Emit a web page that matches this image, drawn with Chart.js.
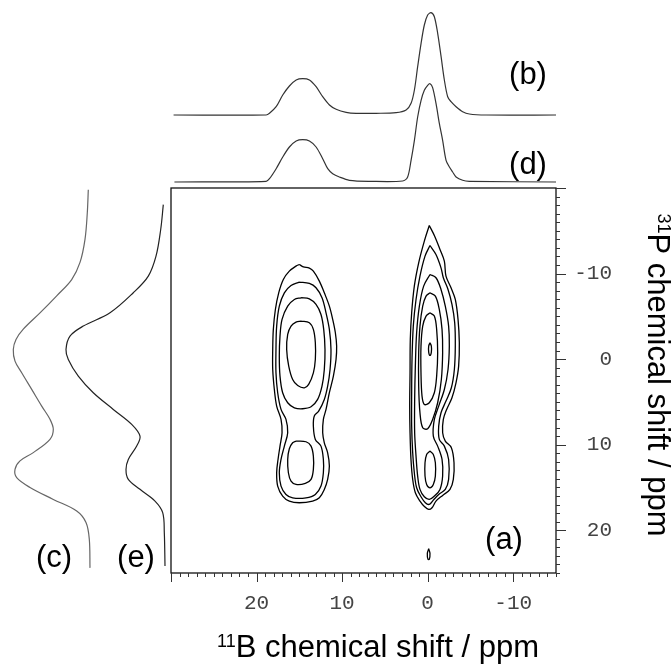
<!DOCTYPE html>
<html lang="en">
<head>
<meta charset="UTF-8">
<title>11B-31P correlation</title>
<style>
    body { margin: 0; padding: 0; background: #fff; }
    #wrap { position: relative; width: 671px; height: 669px; overflow: hidden; }
    canvas { position: absolute; }
    #mainChart { left: 0; top: 0; }
    #topChart { left: 171px; top: 0; }
    #leftChart { left: 0; top: 188px; }
</style>
</head>
<body>
<div id="wrap">
    <canvas id="mainChart" width="671" height="669"></canvas>
    <canvas id="topChart" width="385" height="188"></canvas>
    <canvas id="leftChart" width="171" height="385"></canvas>
</div>
<script src="https://cdn.jsdelivr.net/npm/chart.js"></script>
<script>
// axis ranges and tick labels (ppm)
const xRange = [-15, 30];
const yRange = [-20, 25];
const xTickLabels = [20, 10, 0, -10];
const yTickLabels = [-10, 0, 10, 20];

// 11B projections (top): ppm and intensity
const specB_ppm = [29.7, 18.88, 18.49, 17.71, 16.94, 16.16, 15.37, 14.6, 13.82, 13.04, 12.27, 11.48, 10.7, 9.53, 8.36, 6.03, 3.69, 2.52, 1.94, 1.55, 1.17, 0.77, 0.39, 0.0, -0.4, -0.78, -1.17, -1.57, -1.95, -2.34, -2.73, -3.32, -4.09, -4.87, -6.82, -15];
const specB_int = [0, 0, 1.7, 8.3, 20, 29, 35, 36.3, 35, 28.3, 18.3, 10, 5.7, 2.7, 1.7, 1.7, 2.3, 5, 11.7, 25, 48.3, 71.7, 90, 100, 102.3, 98.3, 81.7, 58.3, 35, 18.3, 13.3, 8.3, 3.3, 1, 0, 0];
const specD_ppm = [29.6, 18.88, 18.49, 17.71, 16.94, 16.16, 15.37, 14.6, 13.82, 13.04, 12.27, 11.68, 11.1, 10.32, 9.15, 6.81, 2.92, 2.34, 1.94, 1.55, 1.17, 0.77, 0.39, 0.0, -0.28, -0.58, -0.98, -1.37, -1.75, -2.15, -2.54, -2.92, -3.32, -4.09, -4.87, -15];
const specD_int = [0, 0.7, 3.3, 13.3, 25, 35, 41, 42.3, 41, 35, 23.3, 13.3, 8.3, 5, 1.7, 0.7, 1, 5, 21.7, 41.7, 65, 81.7, 91.7, 96.7, 98.3, 94.3, 78.3, 58.3, 41.7, 21.7, 15, 10, 5, 1.7, 0.7, 0];

// 31P projections (left): ppm and intensity
const specC_ppm = [-19.8, -17.1, -14.0, -11.3, -9.3, -7.4, -5.4, -3.5, -2.3, -1.13, 0.23, 1.6, 3.54, 5.49, 7.04, 8.21, 9.38, 10.93, 11.9, 12.9, 13.86, 15.0, 16.4, 17.76, 19.1, 21.06, 24.4];
const specC_int = [1.7, 2.7, 5, 10, 18.3, 33.3, 50, 66.7, 74, 76.7, 75, 68.3, 58.3, 48.3, 40, 36.7, 40, 56.7, 70, 75, 73.3, 60, 36.7, 13.3, 4, 0.7, 0];
const specE_ppm = [-18.05, -15.15, -12.03, -9.7, -7.76, -5.42, -3.86, -2.69, -1.13, 0.04, 1.99, 3.93, 5.88, 7.63, 9.0, 10.16, 11.72, 12.89, 14.05, 15.22, 16.59, 17.94, 20.28, 24.18];
const specE_int = [1.7, 4.3, 9, 16.7, 31.7, 55, 81.7, 95, 99, 96.7, 86.7, 71.7, 51.7, 33.3, 25, 28.3, 36.7, 39, 36.7, 25, 10, 2.3, 0.7, 0];

// contour levels, [11B ppm, 31P ppm]
const broadOuter = [[15.0,-11.06],[14.53,-10.79],[13.83,-10.63],[13.36,-10.28],[12.66,-9.12],[12.08,-7.75],[11.49,-6.19],[11.1,-4.64],[10.79,-3.08],[10.64,-1.52],[10.71,0.04],[11.02,1.99],[11.49,3.93],[11.88,5.88],[12.19,7.05],[12.27,8.61],[12.08,9.78],[11.69,10.95],[11.49,12.5],[11.69,14.06],[12.08,15.23],[12.66,16.21],[13.44,16.6],[15.0,16.79],[16.17,16.6],[16.95,16.01],[17.53,14.84],[17.65,13.28],[17.49,11.73],[17.26,10.17],[17.02,8.61],[17.14,7.05],[17.65,5.49],[17.92,3.55],[18.11,1.21],[18.11,-1.13],[18.04,-3.47],[17.8,-5.8],[17.41,-7.75],[16.87,-9.31],[16.17,-10.28],[15.39,-10.87]];
const broadSecond = [[15.0,-9.0],[13.83,-8.84],[13.05,-8.34],[12.35,-7.17],[11.88,-5.41],[11.49,-3.47],[11.3,-1.13],[11.41,1.21],[11.69,3.16],[12.08,4.71],[12.74,6.08],[13.25,6.66],[13.36,7.83],[13.13,9.39],[12.47,10.17],[12.19,11.73],[12.19,13.28],[12.47,14.84],[13.13,15.82],[14.22,16.21],[15.78,16.21],[16.56,15.82],[17.14,14.84],[17.34,13.28],[17.14,11.73],[16.75,10.17],[16.36,8.61],[16.56,7.05],[17.14,5.88],[17.53,3.93],[17.73,1.6],[17.73,-1.13],[17.65,-3.86],[17.34,-6.19],[16.75,-7.75],[15.97,-8.61]];
const broadThird = [[14.8,-7.17],[13.83,-7.05],[13.05,-6.39],[12.47,-5.22],[12.15,-3.47],[12.0,-1.13],[12.08,1.21],[12.35,3.16],[12.86,4.71],[13.63,5.57],[14.61,5.8],[15.58,5.69],[16.36,5.1],[16.95,3.93],[17.26,1.99],[17.34,-0.35],[17.26,-2.69],[17.02,-4.64],[16.36,-6.19],[15.58,-6.97]];
const broadInner = [[14.8,-4.44],[13.83,-4.25],[13.36,-3.47],[13.13,-1.91],[13.13,0.04],[13.36,1.6],[13.91,2.96],[14.41,3.35],[15.19,3.08],[15.78,2.38],[16.24,0.82],[16.48,-1.13],[16.36,-2.88],[15.97,-3.86],[15.39,-4.32]];
const broadLower = [[15.39,9.58],[14.22,9.66],[13.63,10.17],[13.36,11.34],[13.36,12.89],[13.63,14.06],[14.3,14.53],[15.39,14.65],[15.97,14.26],[16.28,13.28],[16.36,11.73],[16.17,10.48],[15.78,9.78]];

const sharpOuter = [[-0.19,-15.62],[-0.82,-14.37],[-1.44,-12.82],[-1.95,-11.45],[-2.14,-9.7],[-2.73,-8.34],[-3.23,-6.97],[-3.55,-4.64],[-3.7,-1.91],[-3.62,0.82],[-3.31,2.77],[-2.84,4.52],[-2.22,5.88],[-1.83,7.05],[-1.75,8.61],[-2.06,9.58],[-2.77,10.36],[-3.08,12.12],[-3.0,14.06],[-2.61,15.23],[-1.75,15.93],[-0.97,16.6],[-0.51,17.37],[-0.12,17.57],[0.35,17.26],[0.9,16.6],[1.44,15.62],[1.75,14.06],[1.95,11.73],[2.06,8.61],[2.1,5.49],[2.06,1.6],[2.03,-2.3],[1.87,-5.41],[1.56,-8.53],[1.05,-11.26],[0.39,-13.79]];
const sharpSecond = [[-0.27,-13.28],[-0.97,-12.23],[-1.56,-10.67],[-1.83,-9.51],[-2.38,-8.14],[-2.84,-6.39],[-3.16,-4.25],[-3.23,-1.52],[-3.12,1.21],[-2.77,3.35],[-2.14,4.91],[-1.56,6.27],[-1.29,7.83],[-1.36,9.39],[-1.95,10.17],[-2.45,11.73],[-2.45,14.06],[-2.06,15.23],[-1.29,15.82],[-0.66,16.48],[-0.19,16.98],[0.27,16.79],[0.78,16.09],[1.29,15.04],[1.56,13.28],[1.75,10.95],[1.87,7.83],[1.87,3.93],[1.83,0.04],[1.68,-3.86],[1.36,-6.97],[0.9,-9.7],[0.31,-12.04]];
const sharpThird = [[-0.27,-9.89],[-0.97,-9.51],[-1.56,-8.14],[-2.06,-6.19],[-2.45,-3.86],[-2.53,-1.52],[-2.38,1.21],[-1.95,3.55],[-1.29,5.49],[-0.78,7.05],[-0.66,9.0],[-1.17,10.17],[-1.68,11.73],[-1.75,13.67],[-1.44,15.23],[-0.78,16.01],[-0.19,16.4],[0.39,16.09],[0.9,15.23],[1.17,13.67],[1.36,11.34],[1.52,8.61],[1.52,4.71],[1.44,0.82],[1.29,-3.08],[0.97,-6.19],[0.47,-8.53]];
const sharpFourth = [[-0.27,-7.75],[-0.9,-7.36],[-1.36,-5.8],[-1.68,-3.47],[-1.75,-0.74],[-1.6,2.38],[-1.17,5.1],[-0.58,7.05],[0.0,8.14],[0.58,8.03],[0.9,6.27],[1.05,3.16],[1.05,-0.74],[0.9,-3.86],[0.58,-6.19],[0.19,-7.36]];
const sharpFifth = [[-0.27,-5.41],[-0.78,-5.03],[-1.05,-3.47],[-1.17,-0.74],[-1.05,1.99],[-0.78,3.93],[-0.19,5.1],[0.39,5.3],[0.66,4.32],[0.78,1.6],[0.78,-1.52],[0.58,-3.86],[0.19,-5.03]];
const sharpPeak = [[-0.27,-1.91],[-0.43,-1.52],[-0.43,-0.82],[-0.27,-0.43],[-0.12,-0.82],[-0.12,-1.52]];
const sharpLower = [[-0.27,10.75],[-0.66,11.14],[-0.9,12.12],[-0.9,13.67],[-0.66,14.65],[-0.27,15.04],[0.12,14.65],[0.31,13.67],[0.31,12.12],[0.12,11.14]];
const smallSpot = [[-0.12,22.17],[-0.27,22.71],[-0.19,23.41],[-0.04,23.41],[0.04,22.71]];

const contours = [broadOuter, broadSecond, broadThird, broadInner, broadLower,
    sharpOuter, sharpSecond, sharpThird, sharpFourth, sharpFifth, sharpPeak, sharpLower, smallSpot];

const specB_offset = 67;
const specC_offset = 75;

const SANS = '"Liberation Sans", Arial, sans-serif';
const MONO = '"Liberation Mono", "Courier New", monospace';

function loop(pts) {
    const out = pts.map(p => ({ x: p[0], y: p[1] }));
    out.push({ x: pts[0][0], y: pts[0][1] });
    return out;
}

function lineSet(data, color, width, tension) {
    return {
        data,
        showLine: true,
        borderColor: color,
        borderWidth: width,
        pointRadius: 0,
        fill: false,
        tension: tension
    };
}

const baseOpts = (padding, xs, ys) => ({
    responsive: false,
    animation: false,
    events: [],
    layout: { padding },
    plugins: { legend: { display: false }, tooltip: { enabled: false } },
    scales: { x: xs, y: ys }
});

// main contour panel with its frame, ticks and labels
const axesPlugin = {
    id: 'axesPlugin',
    afterDraw(chart) {
        const ctx = chart.ctx;
        const ca = chart.chartArea;
        const xs = chart.scales.x, ys = chart.scales.y;
        ctx.save();
        ctx.strokeStyle = '#111';
        ctx.lineWidth = 1.3;
        ctx.strokeRect(ca.left, ca.top, ca.right - ca.left, ca.bottom - ca.top);

        ctx.strokeStyle = '#333';
        ctx.lineWidth = 1;
        ctx.beginPath();
        for (let v = Math.ceil(xs.min); v <= xs.max; v++) {
            const px = Math.round(xs.getPixelForValue(v)) + 0.5;
            const len = v % 10 === 0 ? 9 : 4;
            ctx.moveTo(px, ca.bottom);
            ctx.lineTo(px, ca.bottom + len);
        }
        for (let v = Math.ceil(ys.min); v <= ys.max; v++) {
            const py = Math.round(ys.getPixelForValue(v)) + 0.5;
            const len = v % 10 === 0 ? 10 : 4;
            ctx.moveTo(ca.right, py);
            ctx.lineTo(ca.right + len, py);
        }
        ctx.stroke();

        ctx.fillStyle = '#444';
        ctx.font = '21px ' + MONO;
        ctx.textBaseline = 'middle';
        ctx.textAlign = 'center';
        xTickLabels.forEach(v => ctx.fillText(String(v), xs.getPixelForValue(v), 603));
        ctx.textAlign = 'right';
        yTickLabels.forEach(v => ctx.fillText(String(v), 612, ys.getPixelForValue(v)));

        // axis titles with superscript isotopes
        ctx.fillStyle = '#000';
        ctx.textBaseline = 'alphabetic';
        ctx.textAlign = 'left';
        const drawTitle = (sup, text, cx, base) => {
            ctx.font = '18px ' + SANS;
            const sw = ctx.measureText(sup).width;
            ctx.font = '31px ' + SANS;
            const tw = ctx.measureText(text).width;
            const x0 = cx - (sw + tw) / 2;
            ctx.font = '18px ' + SANS;
            ctx.fillText(sup, x0, base - 10);
            ctx.font = '31px ' + SANS;
            ctx.fillText(text, x0 + sw, base);
        };
        drawTitle('11', 'B chemical shift / ppm', 378, 657);
        ctx.save();
        ctx.translate(648, 375);
        ctx.rotate(Math.PI / 2);
        drawTitle('31', 'P chemical shift / ppm', 0, 0);
        ctx.restore();

        // panel labels
        ctx.font = '31px ' + SANS;
        ctx.textAlign = 'center';
        ctx.fillText('(a)', 504, 549);
        ctx.fillText('(b)', 528, 84);
        ctx.fillText('(d)', 528, 174);
        ctx.fillText('(c)', 54, 567);
        ctx.fillText('(e)', 136, 567);
        ctx.restore();
    }
};

new Chart(document.getElementById('mainChart'), {
    type: 'scatter',
    data: { datasets: contours.map(c => lineSet(loop(c), '#000', 1.3, 0.35)) },
    options: baseOpts({ left: 171, top: 188, right: 115, bottom: 96 },
        { type: 'linear', display: false, reverse: true, min: xRange[0], max: xRange[1] },
        { type: 'linear', display: false, reverse: true, min: yRange[0], max: yRange[1] }),
    plugins: [axesPlugin]
});

// top: 11B projections (b) and (d)
new Chart(document.getElementById('topChart'), {
    type: 'scatter',
    data: {
        datasets: [
            lineSet(specB_ppm.map((p, i) => ({ x: p, y: specB_int[i] + specB_offset })), '#333', 1.2, 0.3),
            lineSet(specD_ppm.map((p, i) => ({ x: p, y: specD_int[i] })), '#333', 1.2, 0.3)
        ]
    },
    options: baseOpts(0,
        { type: 'linear', display: false, reverse: true, min: xRange[0], max: xRange[1] },
        { type: 'linear', display: false, min: -6, max: 182 })
});

// left: 31P projections (c) and (e)
new Chart(document.getElementById('leftChart'), {
    type: 'scatter',
    data: {
        datasets: [
            lineSet(specC_ppm.map((p, i) => ({ x: specC_int[i] + specC_offset, y: p })), '#666', 1.2, 0.35),
            lineSet(specE_ppm.map((p, i) => ({ x: specE_int[i], y: p })), '#222', 1.2, 0.35)
        ]
    },
    options: baseOpts(0,
        { type: 'linear', display: false, reverse: true, min: -6, max: 165 },
        { type: 'linear', display: false, reverse: true, min: yRange[0], max: yRange[1] })
});
</script>
</body>
</html>
